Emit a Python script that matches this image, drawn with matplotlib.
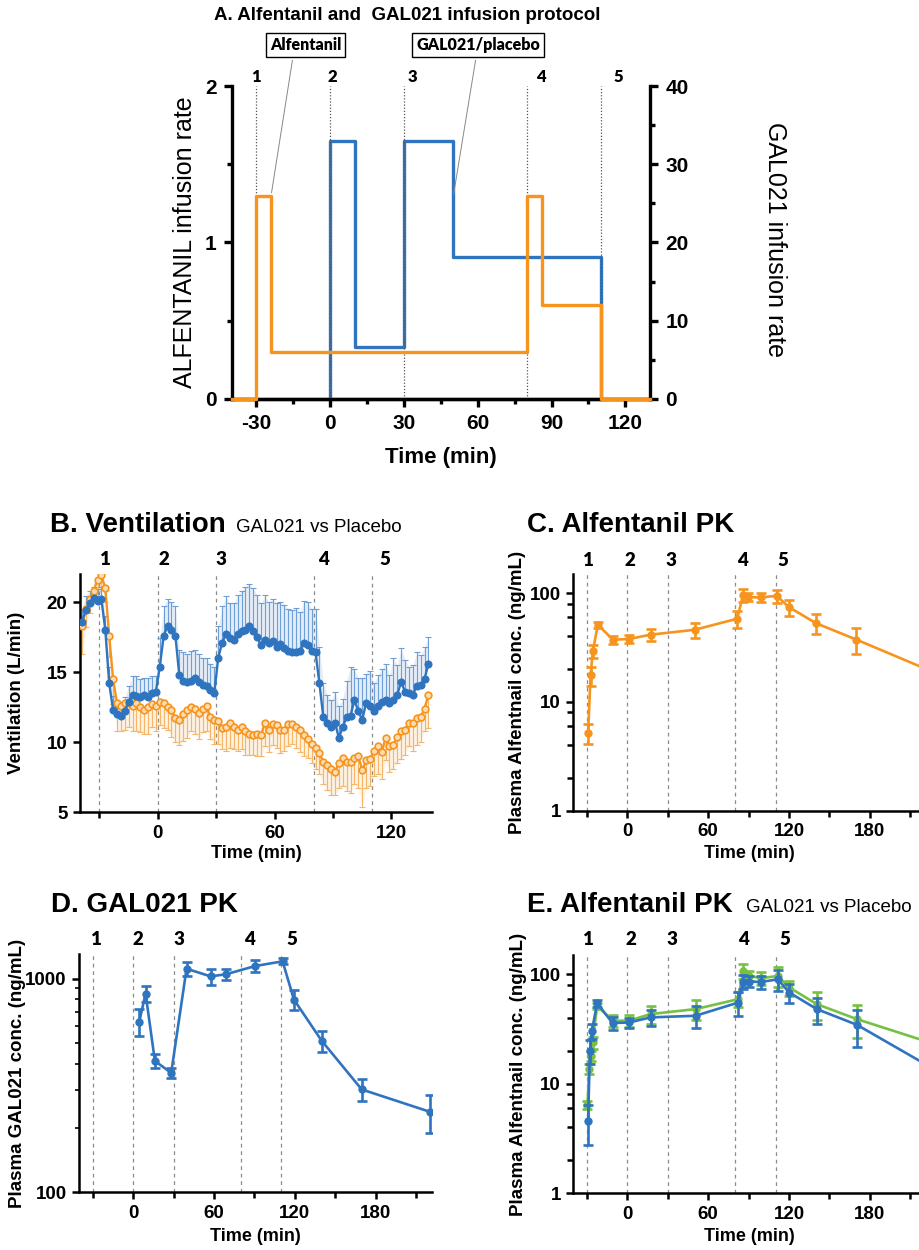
import numpy as np
import matplotlib
matplotlib.use("Agg")
import matplotlib.pyplot as plt
import matplotlib.transforms as mtransforms
from matplotlib.ticker import LogLocator, NullFormatter

plt.rcParams["font.family"] = ["Liberation Sans", "DejaVu Sans"]
plt.rcParams["font.weight"] = "bold"
plt.rcParams["axes.unicode_minus"] = False

W, H = 919, 1250
BLUE = "#2f74bf"
ORANGE = "#f7941d"
GREEN = "#76c043"
NUMFONT = ["Lato", "Liberation Sans", "DejaVu Sans"]

# ---------------- data ----------------
EVENT_TIMES = [-30, 0, 30, 80, 110]

# A: infusion protocol (step functions)
alf_t = [-40, -30, -24, 80, 86, 110, 130]
alf_rate = [0, 1.3, 0.3, 1.3, 0.6, 0, 0]
gal_t = [0, 0, 10, 30, 50, 110]
gal_rate = [0, 33, 6.6, 33, 18.2, 0]

# B: ventilation, 2-min samples from -39 to 139 min
vent_t = np.arange(-39, 140, 2)
vent_gal = [18.6, 19.4, 19.9, 20.3, 20.1, 20.2, 18.0, 14.2, 12.3, 12.0,
            11.9, 12.2, 12.9, 13.4, 13.3, 13.2, 13.4, 13.2, 13.5, 13.6,
            15.4, 17.6, 18.3, 18.0, 17.6, 14.8, 14.4, 14.3, 14.4, 14.6,
            14.3, 14.1, 14.0, 13.7, 13.5, 16.0, 17.1, 17.7, 17.4, 17.3,
            17.7, 17.9, 18.0, 18.3, 17.9, 17.5, 16.9, 17.3, 17.1, 17.2,
            16.8, 17.0, 16.7, 16.5, 16.4, 16.4, 16.5, 17.1, 16.9, 16.5,
            16.4, 14.2, 11.8, 11.4, 11.1, 11.4, 10.3, 11.1, 11.8, 11.9,
            13.0, 12.2, 11.6, 12.8, 12.6, 12.2, 12.6, 12.9, 13.0, 12.8,
            13.0, 13.4, 14.3, 13.6, 13.5, 13.4, 14.0, 14.1, 14.5, 15.6]
vent_gal_sd = [0.9, 1.0, 0.9, 0.8, 0.8, 0.9, 1.0, 1.2, 1.0, 0.9,
               1.0, 1.0, 1.1, 1.3, 1.4, 1.3, 1.2, 1.4, 1.2, 1.1,
               2.0, 2.1, 1.9, 2.0, 2.1, 1.8, 2.0, 2.0, 2.1, 2.0,
               2.0, 1.9, 2.0, 1.9, 1.9, 2.3, 2.6, 2.7, 2.5, 2.6,
               2.8, 2.9, 3.1, 3.0, 3.1, 3.0, 3.0, 3.2, 2.9, 3.0,
               3.1, 3.0, 3.1, 3.0, 3.0, 3.2, 2.8, 3.0, 3.1, 3.0,
               3.1, 2.6, 2.4, 2.0, 1.9, 2.2, 2.3, 2.0, 2.6, 3.5,
               2.2, 2.4, 3.0, 2.1, 2.5, 2.0, 2.2, 2.3, 2.6, 2.0,
               3.0, 2.1, 2.4, 2.3, 1.9, 2.1, 2.4, 2.1, 2.3, 1.9]
vent_pla = [18.3, 19.5, 20.2, 20.8, 21.6, 21.9, 21.0, 17.6, 14.5, 12.8,
            12.6, 12.8, 12.8, 12.6, 12.8, 12.5, 12.3, 12.5, 12.7, 12.6,
            12.9, 12.8, 12.5, 12.3, 11.7, 11.6, 12.0, 12.3, 12.5, 12.4,
            12.1, 12.4, 12.6, 11.8, 11.6, 11.5, 11.0, 11.1, 11.4, 11.1,
            10.9, 11.1, 10.8, 10.6, 10.5, 10.6, 10.5, 11.4, 10.9, 11.3,
            11.2, 10.9, 10.9, 11.3, 11.3, 11.1, 10.9, 10.5, 10.2, 9.9,
            9.6, 9.2, 8.6, 8.4, 8.1, 7.9, 8.5, 8.9, 8.6, 8.6,
            8.9, 9.0, 8.0, 8.7, 8.8, 9.4, 9.7, 9.3, 10.3, 9.7,
            9.8, 10.4, 10.8, 10.9, 11.4, 11.4, 11.7, 11.8, 12.4, 13.4]
vent_pla_sd = [2.0, 1.3, 1.0, 0.9, 0.8, 0.8, 1.0, 1.5, 1.8, 2.0,
               1.8, 1.9, 1.7, 1.8, 2.0, 1.8, 1.7, 1.9, 1.6, 1.8,
               1.7, 1.8, 1.6, 1.9, 1.7, 1.8, 1.9, 2.0, 1.7, 1.8,
               1.9, 1.7, 1.8, 1.6, 1.7, 1.6, 1.5, 1.7, 1.8, 1.6,
               1.5, 1.6, 1.7, 1.5, 1.4, 1.6, 1.5, 1.7, 1.6, 1.5,
               1.6, 1.7, 1.5, 1.6, 1.4, 1.5, 1.6, 1.5, 1.3, 1.4,
               1.5, 1.5, 1.6, 1.8, 1.9, 1.7, 1.8, 2.0, 2.1, 2.2,
               1.9, 2.3, 2.6, 2.0, 1.9, 1.8, 2.0, 1.9, 1.6, 1.8,
               1.7, 1.9, 2.0, 1.8, 1.7, 2.0, 1.9, 1.8, 1.6, 2.4]

# C: alfentanil PK (all subjects)
alf_pk_t = [-29, -27.2, -25.5, -21.8, -10.6, 1.2, 17.3, 50.2, 81.6, 86, 89.5, 99, 110.8, 120, 139.8, 170, 220]
alf_pk = [5.2, 17.6, 29.2, 51.3, 37.3, 37.9, 41.5, 46.1, 58.2, 96.6, 92, 91.3, 94.5, 74.4, 53.1, 37.4, 20.5]
alf_pk_sd = [1.1, 3.5, 4, 3, 3, 3, 5, 7, 10, 13, 8, 8, 13, 13, 11, 10, 6.5]

# D: GAL021 PK
gal_pk_t = [4.5, 9.2, 16.1, 28.2, 39.6, 57.4, 68.8, 90.6, 110.9, 119.3, 139.9, 169.6, 220.3]
gal_pk = [628, 851, 412, 362, 1113, 1025, 1048, 1146, 1205, 798, 512, 303, 238]
gal_pk_sd = [90, 75, 32, 20, 85, 90, 60, 75, 40, 85, 58, 35, 48]

# E: alfentanil PK, GAL021 vs placebo
e_gal_t = [-29, -27.7, -26.2, -22.3, -10.9, 1.5, 17.3, 50.7, 82.4, 85.9, 90.6, 99.3, 111.6, 120.3, 140.6, 170.3, 220]
e_gal = [4.6, 20.1, 30.5, 54.5, 35.9, 36.3, 40.4, 41.8, 55.2, 85.8, 85.8, 85, 90, 68.1, 48.1, 34.6, 15.4]
e_gal_sd = [1.85, 5, 5, 4, 5, 4, 7, 9.5, 13.5, 12, 10, 12, 19, 13, 13, 13, 5]
e_pla_t = [-29.5, -28.2, -27, -25.7, -22.3, -10.9, 1.5, 17.3, 50.7, 82.4, 85.9, 90.6, 99.3, 111.6, 120.3, 140.6, 170.3, 220]
e_pla = [6.4, 13.7, 18, 24, 51.5, 37.7, 37.7, 43.3, 48.1, 59.3, 107, 96.6, 92, 96.6, 75.7, 53.4, 39, 24.8]
e_pla_sd = [0.5, 1.5, 2, 3, 3, 4.5, 5, 8, 10, 9, 16, 10, 12, 20, 12, 15, 13, 8]

# ---------------- figure ----------------
fig = plt.figure(figsize=(W / 100, H / 100), dpi=100)


def add_ax(left, top, right, bottom):
    return fig.add_axes([left / W, 1 - bottom / H, (right - left) / W, (bottom - top) / H])


def ftext(x, y, s, **kw):
    fig.text(x / W, 1 - y / H, s, **kw)


def style(ax, lw=1.8, size=13.5):
    ax.spines["top"].set_visible(False)
    ax.spines["right"].set_visible(False)
    ax.spines["left"].set_linewidth(lw)
    ax.spines["bottom"].set_linewidth(lw)
    ax.tick_params(which="major", length=5, width=lw, labelsize=size, pad=4)
    ax.tick_params(which="minor", length=4, width=lw)
    ax.patch.set_visible(False)


def events(ax, label_x, label_y, ls=(0, (3, 3)), color="#8c8c8c", size=13.5):
    for t in EVENT_TIMES:
        ax.axvline(t, color=color, ls=ls, lw=0.9, zorder=0)
    trans = mtransforms.blended_transform_factory(ax.transData, ax.transAxes)
    for i, x in enumerate(label_x):
        ax.text(x, label_y, str(i + 1), transform=trans, ha="center", va="center",
                fontsize=size, family=NUMFONT, fontweight="heavy", clip_on=False)


def pk_plot(ax, t, y, sd, color, z=3):
    ax.errorbar(t, y, yerr=sd, color=color, lw=1.9, marker="o", ms=5,
                elinewidth=1.9, capsize=3.5, capthick=1.9, zorder=z)


# ---- A ----
axA = add_ax(231.7, 86, 650, 399)
axA2 = axA.twinx()
axA.set_zorder(axA2.get_zorder() + 1)
axA.patch.set_visible(False)
axA.set_xlim(-40, 130)
axA.set_ylim(0, 2)
axA2.set_ylim(0, 40)
for a in (axA, axA2):
    a.spines["top"].set_visible(False)
    for s in ("left", "right", "bottom"):
        a.spines[s].set_linewidth(2.4)
    a.tick_params(which="major", length=6, width=2.4, labelsize=15, pad=5)
    a.tick_params(which="minor", length=3.5, width=2.4)
axA.spines["right"].set_visible(False)
axA2.spines["left"].set_visible(False)
axA.set_xticks([-30, 0, 30, 60, 90, 120])
axA.set_xticks([-15, 15, 45, 75, 105], minor=True)
axA.set_yticks([0, 1, 2])
axA.set_yticks([0.5, 1.5], minor=True)
axA2.set_yticks([0, 10, 20, 30, 40])
axA2.set_yticks([5, 15, 25, 35], minor=True)
for t in EVENT_TIMES:
    axA.plot([t, t], [0, 2], color="#555555", ls=(0, (1, 1.5)), lw=0.9, zorder=1)
transA = mtransforms.blended_transform_factory(axA.transData, axA.transAxes)
for i, x in enumerate([-30, 0.7, 33.6, 85.8, 117]):
    axA.text(x, 1.029, str(i + 1), transform=transA, ha="center", va="center",
             fontsize=12, family=NUMFONT, fontweight="heavy", clip_on=False)
axA2.step(gal_t, gal_rate, where="post", color=BLUE, lw=2.4, clip_on=False, zorder=3)
axA.step(alf_t, alf_rate, where="post", color=ORANGE, lw=2.4, clip_on=False, zorder=3)
axA.text((185 - 231.7) / 418.3, 0.5, "ALFENTANIL infusion rate", transform=axA.transAxes,
         rotation=90, ha="center", va="center", fontsize=18, fontweight="normal")
axA.text((775 - 231.7) / 418.3, 0.51, "GAL021 infusion rate", transform=axA.transAxes,
         rotation=-90, ha="center", va="center", fontsize=18, fontweight="normal")
axA.text(0.5, (399 - 458) / 313, "Time (min)", transform=axA.transAxes, ha="center",
         va="center", fontsize=16, fontweight="bold")
ftext(407, 15, "A. Alfentanil and  GAL021 infusion protocol", ha="center", va="center", fontsize=13.5)
box = dict(boxstyle="square,pad=0.25", fc="white", ec="black", lw=1)
axA.annotate("Alfentanil", xy=(-24, 1.3), xytext=(305.7, H - 45), textcoords="figure pixels",
             ha="center", va="center", fontsize=11.5, family=NUMFONT, fontweight="heavy", bbox=box,
             arrowprops=dict(arrowstyle="-", color="#888888", lw=0.7, relpos=(0.33, 0)))
axA.annotate("GAL021/placebo", xy=(50, 1.29), xytext=(478, H - 45), textcoords="figure pixels",
             ha="center", va="center", fontsize=11.5, family=NUMFONT, fontweight="heavy", bbox=box,
             arrowprops=dict(arrowstyle="-", color="#888888", lw=0.7, relpos=(0.49, 0)))

# ---- B ----
axB = add_ax(80, 574, 432.3, 812.3)
style(axB)
axB.set_xlim(-40, 141)
axB.set_ylim(5, 22)
axB.set_xticks([0, 60, 120])
axB.set_xticks([-30, 30, 90], minor=True)
axB.set_yticks([5, 10, 15, 20])
events(axB, [-26.7, 3.2, 32.3, 85, 116.6], 1.059)
gal_arr = np.array(vent_gal)
pla_arr = np.array(vent_pla)
gsd = np.array(vent_gal_sd)
psd = np.array(vent_pla_sd)
axB.fill_between(vent_t, pla_arr - psd, pla_arr, color=ORANGE, alpha=0.13, lw=0, zorder=1)
axB.fill_between(vent_t, gal_arr, gal_arr + gsd, color=BLUE, alpha=0.13, lw=0, zorder=1)
axB.errorbar(vent_t, pla_arr, yerr=[psd, np.zeros_like(psd)], fmt="none", ecolor="#f6b66a",
             elinewidth=0.8, capsize=2, capthick=0.8, zorder=2)
axB.errorbar(vent_t, gal_arr, yerr=[np.zeros_like(gsd), gsd], fmt="none", ecolor="#6d9fd6",
             elinewidth=0.8, capsize=2, capthick=0.8, zorder=2)
axB.plot(vent_t, pla_arr, "-o", color=ORANGE, mfc="#fcdcb4", mec=ORANGE, ms=4.8, mew=1.2, lw=1.7, zorder=3)
axB.plot(vent_t, gal_arr, "-o", color=BLUE, ms=4.8, lw=1.7, zorder=4)
axB.text((17 - 80) / 352.3, 0.5, "Ventilation (L/min)", transform=axB.transAxes, rotation=90,
         ha="center", va="center", fontsize=13.5)
axB.text(0.5, (812.3 - 853) / 238.3, "Time (min)", transform=axB.transAxes, ha="center",
         va="center", fontsize=13)
ftext(50, 525, "B. Ventilation", ha="left", va="center", fontsize=20)
ftext(236, 527, "GAL021 vs Placebo", ha="left", va="center", fontsize=13.5, fontweight="normal")

# ---- C ----
axC = add_ax(573.3, 574, 573.3 + 290 * 1.348, 810.7)
style(axC)
axC.set_yscale("log")
axC.set_xlim(-40, 250)
axC.set_ylim(1, 150)
axC.set_xticks([0, 60, 120, 180])
axC.set_xticks([-30, 30, 90, 150, 210], minor=True)
axC.set_yticks([1, 10, 100])
axC.set_yticklabels(["1", "10", "100"])
axC.yaxis.set_minor_locator(LogLocator(base=10, subs=[2, 4, 6, 8]))
axC.yaxis.set_minor_formatter(NullFormatter())
events(axC, [-29, 2, 32.7, 85.4, 115.8], 1.059)
pk_plot(axC, alf_pk_t, alf_pk, alf_pk_sd, ORANGE)
axC.text((518 - 573.3) / 390.9, 0.5, "Plasma Alfentnail conc. (ng/mL)", transform=axC.transAxes,
         rotation=90, ha="center", va="center", fontsize=13.5)
axC.text((749 - 573.3) / 390.9, (810.7 - 853) / 236.7, "Time (min)", transform=axC.transAxes,
         ha="center", va="center", fontsize=13)
ftext(526.7, 525, "C. Alfentanil PK", ha="left", va="center", fontsize=20)

# ---- D ----
axD = add_ax(79.3, 954.3, 432.3, 1192.3)
style(axD)
axD.set_yscale("log")
axD.set_xlim(-40, 222)
axD.set_ylim(100, 1300)
axD.set_xticks([0, 60, 120, 180])
axD.set_xticks([-30, 30, 90, 150, 210], minor=True)
axD.set_yticks([100, 1000])
axD.set_yticklabels(["100", "1000"])
axD.yaxis.set_minor_locator(LogLocator(base=10, subs=[2, 3, 4, 5, 6, 7, 8, 9]))
axD.yaxis.set_minor_formatter(NullFormatter())
axD.tick_params(axis="y", which="minor", length=3, width=1.2)
events(axD, [-27.2, 3.2, 34.2, 86.6, 117.6], 1.064)
pk_plot(axD, gal_pk_t, gal_pk, gal_pk_sd, BLUE)
axD.text((18 - 79.3) / 353, 0.5, "Plasma GAL021 conc. (ng/mL)", transform=axD.transAxes,
         rotation=90, ha="center", va="center", fontsize=13.5)
axD.text(0.5, (1192.3 - 1236.7) / 238, "Time (min)", transform=axD.transAxes, ha="center",
         va="center", fontsize=13)
ftext(50.7, 905, "D. GAL021 PK", ha="left", va="center", fontsize=20)

# ---- E ----
axE = add_ax(573.3, 955, 573.3 + 290 * 1.348, 1193.3)
style(axE)
axE.set_yscale("log")
axE.set_xlim(-40, 250)
axE.set_ylim(1, 150)
axE.set_xticks([0, 60, 120, 180])
axE.set_xticks([-30, 30, 90, 150, 210], minor=True)
axE.set_yticks([1, 10, 100])
axE.set_yticklabels(["1", "10", "100"])
axE.yaxis.set_minor_locator(LogLocator(base=10, subs=[2, 4, 6, 8]))
axE.yaxis.set_minor_formatter(NullFormatter())
events(axE, [-28.5, 2.5, 33.4, 86.1, 117], 1.067)
pk_plot(axE, e_pla_t, e_pla, e_pla_sd, GREEN, z=3)
pk_plot(axE, e_gal_t, e_gal, e_gal_sd, BLUE, z=4)
axE.text((519 - 573.3) / 390.9, 0.5, "Plasma Alfentnail conc. (ng/mL)", transform=axE.transAxes,
         rotation=90, ha="center", va="center", fontsize=13.5)
axE.text((749 - 573.3) / 390.9, (1193.3 - 1236.7) / 238.3, "Time (min)", transform=axE.transAxes,
         ha="center", va="center", fontsize=13)
ftext(526.7, 905, "E. Alfentanil PK", ha="left", va="center", fontsize=20)
ftext(746, 907, "GAL021 vs Placebo", ha="left", va="center", fontsize=13.5, fontweight="normal")

fig.savefig("out.png", dpi=100)
